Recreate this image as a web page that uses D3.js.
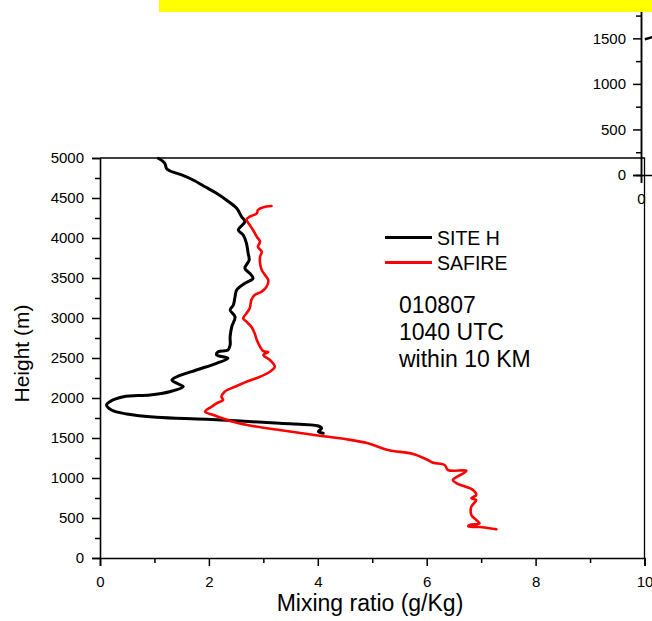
<!DOCTYPE html>
<html>
<head>
<meta charset="utf-8">
<script src="https://cdn.jsdelivr.net/npm/d3@7"></script>
<style>
  html, body { margin: 0; padding: 0; background: #ffffff; }
  svg { display: block; font-family: "Liberation Sans", Arial, sans-serif; }
</style>
</head>
<body>
<svg id="chart" width="652" height="621"></svg>
<script>
// Mixing-ratio profiles: [mixing ratio g/Kg, height m]
const siteH = [
  [1.07, 4996], [1.19, 4934], [1.22, 4871], [1.28, 4841], [1.50, 4788],
  [1.71, 4725], [1.93, 4641], [2.14, 4559], [2.32, 4475], [2.51, 4371],
  [2.60, 4266], [2.66, 4204], [2.54, 4100], [2.63, 4038], [2.69, 3934],
  [2.72, 3809], [2.74, 3725], [2.66, 3621], [2.75, 3559], [2.81, 3496],
  [2.66, 3434], [2.51, 3350], [2.48, 3266], [2.45, 3163], [2.39, 3100],
  [2.48, 3016], [2.42, 2891], [2.39, 2766], [2.39, 2663], [2.35, 2600],
  [2.17, 2579], [2.14, 2538], [2.35, 2496], [2.14, 2434], [1.77, 2350],
  [1.41, 2266], [1.32, 2225], [1.41, 2184], [1.53, 2141], [1.28, 2079],
  [0.92, 2038], [0.43, 2016], [0.18, 1954], [0.12, 1913], [0.21, 1850],
  [0.49, 1800], [1.04, 1759], [1.96, 1734], [3.30, 1684], [4.01, 1650],
  [4.07, 1621], [4.01, 1579], [4.10, 1559]
];
const safire = [
  [3.15, 4400], [3.00, 4384], [2.90, 4350], [2.88, 4309], [2.75, 4266],
  [2.69, 4234], [2.75, 4163], [2.81, 4100], [2.88, 4016], [2.94, 3954],
  [2.90, 3891], [2.97, 3829], [2.94, 3766], [2.94, 3684], [2.97, 3600],
  [3.03, 3538], [3.09, 3475], [3.06, 3391], [2.97, 3329], [2.84, 3288],
  [2.78, 3225], [2.75, 3121], [2.69, 3059], [2.63, 2996], [2.69, 2954],
  [2.78, 2891], [2.84, 2809], [2.88, 2725], [2.94, 2641], [3.00, 2585],
  [3.09, 2575], [3.00, 2538], [3.12, 2475], [3.21, 2391], [3.12, 2329],
  [2.94, 2266], [2.69, 2204], [2.48, 2141], [2.29, 2079], [2.23, 2016],
  [2.26, 1975], [2.14, 1934], [2.05, 1891], [1.93, 1829], [2.08, 1788],
  [2.39, 1713], [2.75, 1656], [3.36, 1594], [4.00, 1531], [4.53, 1484],
  [4.92, 1434], [5.29, 1350], [5.75, 1300], [6.02, 1225], [6.12, 1191],
  [6.33, 1163], [6.39, 1100], [6.73, 1088], [6.48, 975], [6.55, 934],
  [6.85, 850], [6.91, 788], [6.82, 746], [6.91, 725], [6.82, 641],
  [6.82, 538], [6.91, 475], [6.97, 434], [6.79, 413], [6.76, 395],
  [6.97, 388], [7.28, 359]
];
// Neighbouring panel (only its lower-left corner shows)
const panelProfile = [[0.07, 1490], [0.25, 1520]];

const xTicks = [0, 2, 4, 6, 8, 10];
const xMinor = [1, 3, 5, 7, 9];
const yTicks = [0, 500, 1000, 1500, 2000, 2500, 3000, 3500, 4000, 4500, 5000];
const yMinor = [250, 750, 1250, 1750, 2250, 2750, 3250, 3750, 4250, 4750];
const panelYTicks = [0, 500, 1000, 1500];
const panelYMinor = [250, 750, 1250, 1750];
const panelXTicks = [0];

const seriesNames = ["SITE H", "SAFIRE"];
const seriesColors = ["#000000", "#ff0000"];
const noteLines = ["010807", "1040 UTC", "within 10 KM"];
const xTitle = "Mixing ratio (g/Kg)";
const yTitle = "Height (m)";

const svg = d3.select("#chart");

// ---- neighbouring panel, drawn first so the main frame sits over it
const px = d3.scaleLinear().domain([0, 10]).range([641, 1186]);
const py = d3.scaleLinear().domain([0, 2000]).range([175, -7.2]);
const panel = svg.append("g");
panel.append("g").attr("transform", `translate(${px(0)},0)`)
  .call(d3.axisLeft(py).tickValues(panelYTicks).tickSize(8).tickPadding(7).tickFormat(d3.format("d")));
panel.append("g").attr("transform", `translate(${px(0)},0)`)
  .call(d3.axisLeft(py).tickValues(panelYMinor).tickSize(5).tickFormat(""));
panel.append("g").attr("transform", `translate(0,${py(0)})`)
  .call(d3.axisBottom(px).tickValues(panelXTicks).tickSize(8).tickPadding(10).tickFormat(d3.format("d")));
panel.selectAll(".domain").attr("stroke", "#000").attr("stroke-width", 1.5);
panel.selectAll(".tick line").attr("stroke", "#000").attr("stroke-width", 1.5);
panel.selectAll(".tick text").attr("font-size", 15).attr("fill", "#000")
  .attr("font-family", "Liberation Sans, Arial, sans-serif");
panel.append("path")
  .datum(panelProfile)
  .attr("fill", "none").attr("stroke", "#000").attr("stroke-width", 2.6)
  .attr("d", d3.line().x(d => px(d[0])).y(d => py(d[1])));

// ---- main panel
const x = d3.scaleLinear().domain([0, 10]).range([100, 644.5]);
const y = d3.scaleLinear().domain([0, 5000]).range([558, 158]);
const main = svg.append("g");

// frame: top and right edges
main.append("path")
  .attr("d", `M${x(0)},${y(5000)}H${x(10)}V${y(0)}`)
  .attr("fill", "none").attr("stroke", "#000").attr("stroke-width", 1.3);

main.append("g").attr("transform", `translate(${x(0)},0)`)
  .call(d3.axisLeft(y).tickValues(yTicks).tickSize(8).tickPadding(8).tickFormat(d3.format("d")));
main.append("g").attr("class", "minor").attr("transform", `translate(${x(0)},0)`)
  .call(d3.axisLeft(y).tickValues(yMinor).tickSize(5).tickFormat(""));
main.append("g").attr("transform", `translate(0,${y(0)})`)
  .call(d3.axisBottom(x).tickValues(xTicks).tickSize(8).tickPadding(10).tickFormat(d3.format("d")));
main.append("g").attr("class", "minor").attr("transform", `translate(0,${y(0)})`)
  .call(d3.axisBottom(x).tickValues(xMinor).tickSize(5).tickFormat(""));

main.selectAll(".domain").attr("stroke", "#000").attr("stroke-width", 1.6);
main.selectAll(".minor .domain").remove();
main.selectAll(".tick line").attr("stroke", "#000").attr("stroke-width", 1.5);
main.selectAll(".tick text").attr("font-size", 15).attr("fill", "#000")
  .attr("font-family", "Liberation Sans, Arial, sans-serif");

// profiles
const line = d3.line()
  .x(d => x(d[0])).y(d => y(d[1]))
  .curve(d3.curveCatmullRom.alpha(0.5));
main.append("path").datum(siteH)
  .attr("fill", "none").attr("stroke", seriesColors[0]).attr("stroke-width", 3)
  .attr("stroke-linejoin", "round").attr("stroke-linecap", "round")
  .attr("d", line);
main.append("path").datum(safire)
  .attr("fill", "none").attr("stroke", seriesColors[1]).attr("stroke-width", 2.6)
  .attr("stroke-linejoin", "round").attr("stroke-linecap", "round")
  .attr("d", line);

// legend
const legend = main.append("g").attr("transform", "translate(385,237.5)");
seriesNames.forEach((name, i) => {
  const g = legend.append("g").attr("transform", `translate(0,${i * 25})`);
  g.append("line").attr("x1", 0).attr("x2", 47).attr("y1", 0).attr("y2", 0)
    .attr("stroke", seriesColors[i]).attr("stroke-width", 3);
  g.append("text").attr("x", 52).attr("y", 7).attr("font-size", 19.5)
    .attr("fill", "#000").text(name);
});

// annotation
const note = main.append("text").attr("x", 399).attr("y", 312.5)
  .attr("font-size", 23).attr("fill", "#000");
noteLines.forEach((t, i) => {
  note.append("tspan").attr("x", 399).attr("dy", i === 0 ? 0 : 27).text(t);
});

// axis titles
main.append("text")
  .attr("x", 370).attr("y", 611)
  .attr("text-anchor", "middle").attr("font-size", 23).attr("fill", "#000")
  .text(xTitle);
main.append("text")
  .attr("transform", `translate(29,353.5) rotate(-90)`)
  .attr("text-anchor", "middle").attr("font-size", 21).attr("fill", "#000")
  .text(yTitle);

// highlight band across the top
svg.append("rect").attr("x", 159).attr("y", 0).attr("width", 493).attr("height", 12)
  .attr("fill", "#ffff00");
</script>
</body>
</html>
